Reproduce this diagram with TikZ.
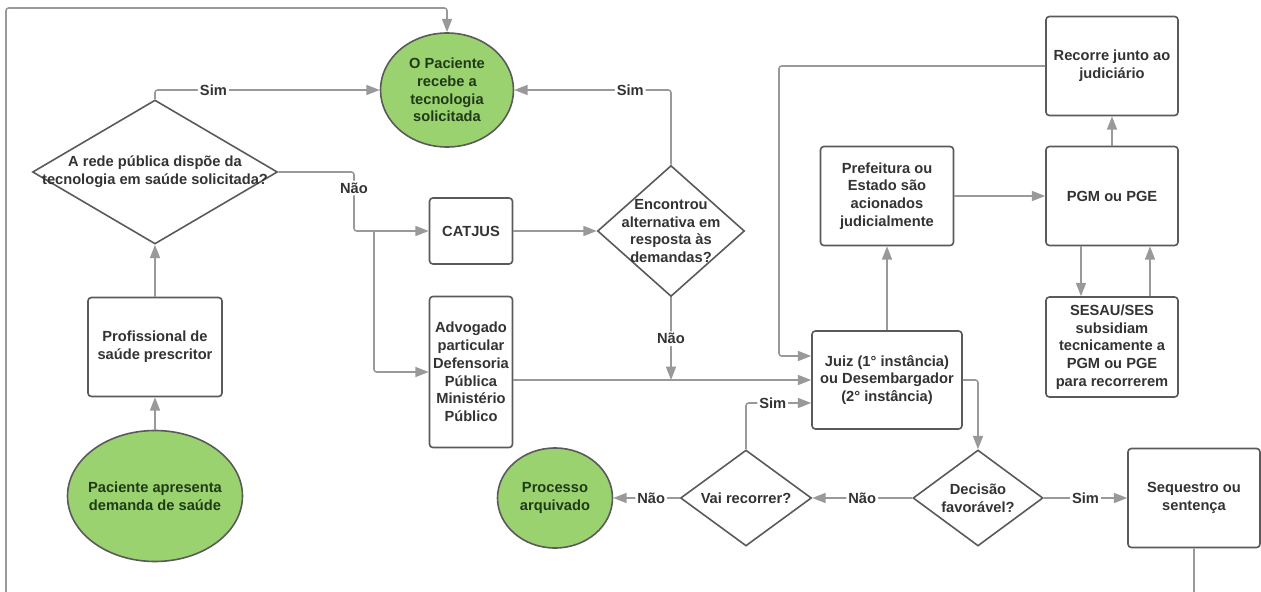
\documentclass[tikz,border=0pt]{standalone}
\usepackage{fontspec}
\setmainfont{Liberation Sans}
\usetikzlibrary{shapes.geometric,arrows.meta}

\definecolor{lineGray}{RGB}{153,153,153}
\definecolor{borderGray}{RGB}{90,90,90}
\definecolor{textGray}{RGB}{51,51,51}
\definecolor{termGreen}{RGB}{155,210,112}
\definecolor{termText}{RGB}{32,58,24}

\tikzset{every picture/.style={line width=1.2pt},
  flowtext/.style={font=\fontsize{11}{13.3}\selectfont\bfseries,text=textGray,align=center,inner sep=0pt},
  procbox/.style={draw=borderGray,fill=white,rounded corners=2.5pt,flowtext},
  termshape/.style={ellipse,draw=borderGray,fill=termGreen,inner sep=0pt},
  decshape/.style={diamond,draw=borderGray,fill=white,inner sep=0pt},
  conn/.style={draw=lineGray,rounded corners=2pt,-{Triangle[length=10pt,width=7.5pt]}},
  plainconn/.style={draw=lineGray,rounded corners=2pt},
  edgelabel/.style={flowtext,fill=white,inner sep=1.5pt}
}

\begin{document}
\begin{tikzpicture}[x=0.75pt,y=0.75pt,yscale=-1,xscale=1]
            \useasboundingbox (0,0) rectangle (1261,592);
            \clip (0,0) rectangle (1261,592);
            %Shape: Ellipse
            \node[termshape,minimum width=99.75pt,minimum height=85.5pt] (pat) at (447,90) {};
            \node[flowtext,text=termText] (patText) at (pat) {O Paciente\\recebe a\\tecnologia\\solicitada};
            %Shape: Diamond
            \node[decshape,minimum width=183.75pt,minimum height=108pt] (dq1) at (155,172) {};
            \node[flowtext] (dq1Text) at (dq1) {A rede pública dispõe da\\tecnologia em saúde solicitada?};
            %Shape: Rectangle
            \node[procbox,minimum width=100.5pt,minimum height=74.25pt] (prof) at (155,347) {Profissional de\\saúde prescritor};
            %Shape: Ellipse
            \node[termshape,minimum width=131.25pt,minimum height=98.25pt] (dem) at (155,496) {};
            \node[flowtext,text=termText] (demText) at (dem) {Paciente apresenta\\demanda de saúde};
            %Shape: Rectangle
            \node[procbox,minimum width=62.25pt,minimum height=49.5pt] (catjus) at (471,231) {CATJUS};
            %Shape: Rectangle
            \node[procbox,minimum width=62.25pt,minimum height=113.25pt] (adv) at (471,372) {Advogado\\particular\\Defensoria\\Pública\\Ministério\\Público};
            %Shape: Diamond
            \node[decshape,minimum width=110.25pt,minimum height=98.25pt] (dq2) at (671,231) {};
            \node[flowtext] (dq2Text) at (dq2) {Encontrou\\alternativa em\\resposta às\\demandas?};
            %Shape: Rectangle
            \node[procbox,minimum width=112.5pt,minimum height=73.5pt] (juiz) at (887,380) {Juiz (1° instância)\\ou Desembargador\\(2° instância)};
            %Shape: Rectangle
            \node[procbox,minimum width=99.75pt,minimum height=74.25pt] (pref) at (887,196) {Prefeitura ou\\Estado são\\acionados\\judicialmente};
            %Shape: Rectangle
            \node[procbox,minimum width=99pt,minimum height=74.25pt] (pgm) at (1112,196) {PGM ou PGE};
            %Shape: Rectangle
            \node[procbox,minimum width=99pt,minimum height=74.25pt] (rec) at (1112,66) {Recorre junto ao\\judiciário};
            %Shape: Rectangle
            \node[procbox,minimum width=99pt,minimum height=75pt] (sesau) at (1112,347) {SESAU/SES\\subsidiam\\tecnicamente a\\PGM ou PGE\\para recorrerem};
            %Shape: Diamond
            \node[decshape,minimum width=97.5pt,minimum height=72pt] (dq3) at (978,498) {};
            \node[flowtext] (dq3Text) at (dq3) {Decisão\\favorável?};
            %Shape: Diamond
            \node[decshape,minimum width=98.25pt,minimum height=72pt] (vai) at (746,498) {};
            \node[flowtext] (vaiText) at (vai) {Vai recorrer?};
            %Shape: Rectangle
            \node[procbox,minimum width=99pt,minimum height=74.25pt] (seq) at (1194,498) {Sequestro ou\\sentença};
            %Shape: Ellipse
            \node[termshape,minimum width=86.25pt,minimum height=75pt] (arq) at (555,498) {};
            \node[flowtext,text=termText] (arqText) at (arq) {Processo\\arquivado};
            %Bend points
            \coordinate (naoBend) at (354,188);
            \coordinate (splitA) at (374,231);
            \coordinate (recBend) at (779,356);
            \coordinate (vaiBend) at (746,403);
            \coordinate (sesX1) at (1081,300);
            \coordinate (sesX2) at (1150,300);
            \coordinate (loopBR) at (1194,640);
            \coordinate (loopBL) at (6,640);
            \coordinate (loopTL) at (6,8);
            %Straight Lines
            \draw[conn] (dem) -- (prof);
            \draw[conn] (prof) -- (dq1.south);
            %Elbow Lines
            \draw[conn] (dq1.north) |- node[edgelabel,pos=0.63] {Sim} (pat.west);
            \draw[conn] (dq1.east) -| (naoBend) node[edgelabel] {Não} |- (catjus.west);
            \draw[conn] (splitA) |- (adv.west);
            \draw[conn] (catjus) -- (dq2.west);
            \draw[conn] (dq2.north) |- node[edgelabel,pos=0.63] {Sim} (pat.east);
            \draw[conn] (dq2.south) -- node[edgelabel] {Não} (dq2.south |- juiz.west);
            \draw[conn] (adv.east |- juiz.west) -- (juiz.west);
            \draw[conn] (rec.west) -| (recBend) -- (recBend -| juiz.west);
            \draw[conn] (vai.north) -- (vaiBend) -- node[edgelabel,pos=0.41] {Sim} (vaiBend -| juiz.west);
            \draw[conn] (juiz) -- (pref);
            \draw[conn] (pref) -- (pgm);
            \draw[conn] (pgm) -- (rec);
            \draw[conn] (sesX1 |- pgm.south) -- (sesX1 |- sesau.north);
            \draw[conn] (sesX2 |- sesau.north) -- (sesX2 |- pgm.south);
            \draw[conn] (juiz.east) -| (dq3.north);
            \draw[conn] (dq3.west) -- node[edgelabel] {Não} (vai.east);
            \draw[conn] (dq3.east) -- node[edgelabel] {Sim} (seq.west);
            \draw[conn] (vai.west) -- node[edgelabel,pos=0.43] {Não} (arq.east);
            %Loop back
            \draw[conn] (seq.south) -- (loopBR) -- (loopBL) -- (loopTL) -| (pat.north);
        \end{tikzpicture}
\end{document}
